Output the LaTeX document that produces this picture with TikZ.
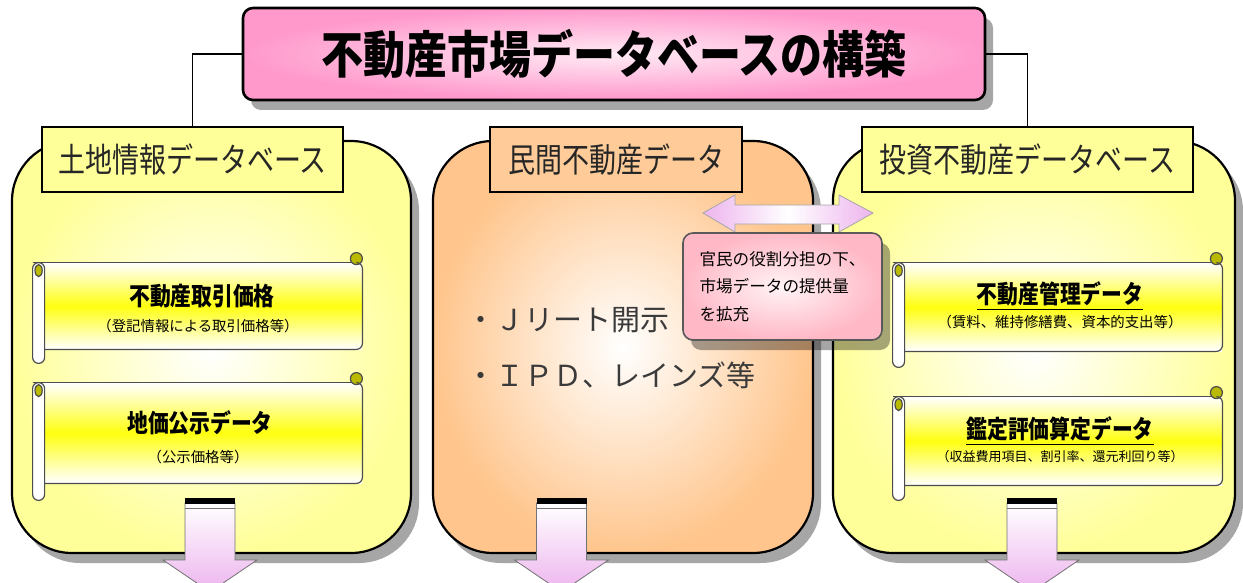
\documentclass[tikz,border=0pt]{standalone}
\usepackage{fontspec}
\usepackage{graphicx}
\newfontfamily\jp{Noto Sans CJK JP}
\usetikzlibrary{shadows}
\definecolor{boxyellow}{HTML}{FFFF9A}
\definecolor{boxpeach}{HTML}{FFC58C}
\definecolor{hdryellow}{HTML}{FFFF99}
\definecolor{hdrpeach}{HTML}{FFCC99}
\definecolor{titlepink}{HTML}{FF99CC}
\definecolor{calloutpink}{HTML}{FFB8C6}
\definecolor{arrowpink}{HTML}{EDB4EE}
\definecolor{scrollyellow}{HTML}{FFFF10}
\definecolor{curlcol}{HTML}{B9B900}
\definecolor{bullettext}{HTML}{3A3A3A}
\newcommand\ScrollDeco[2]{%
  \draw[scrollline, fill=white, rounded corners=3pt] ([xshift=-5pt]#1.north west) rectangle ([xshift=1pt,yshift=-#2]#1.south west);
  \draw[scrollline] ([xshift=-5pt]#1.north west) -- ([xshift=-3pt]#1.north east);
  \draw[scrollline, fill=curlcol] ([xshift=-2pt,yshift=-4pt]#1.north west) ellipse (1.8pt and 3pt);
  \draw[scrollline, fill=curlcol] ([xshift=-3pt,yshift=2pt]#1.north east) circle (3pt);
  \draw[scrollline, rounded corners=3pt] ([xshift=-3pt]#1.north east) -- (#1.north east) -- (#1.south east) -- ([xshift=1pt]#1.south west);
}
\begin{document}
\begin{tikzpicture}[x=0.5pt,y=-0.5pt,
  every node/.style={font=\jp},
  bigbox/.style={draw=black, line width=1.1pt, rounded corners=30pt, minimum height=206pt, inner sep=0pt,
    drop shadow={shadow xshift=4pt, shadow yshift=-5pt, opacity=0.35, fill=black}},
  yellowbox/.style={bigbox, inner color=white, outer color=boxyellow},
  peachbox/.style={bigbox, inner color=white, outer color=boxpeach},
  header/.style={draw=black, line width=0.7pt, minimum height=32.5pt, inner sep=0pt,
    text=black!85, font={\jp\fontsize{13.5}{16}\selectfont}},
  titlebox/.style={draw=black, line width=1.3pt, rounded corners=5pt, minimum width=371pt, minimum height=46pt,
    inner color=white!80!titlepink, outer color=titlepink,
    drop shadow={shadow xshift=4pt, shadow yshift=-5pt, opacity=0.35, fill=black},
    font={\jp\bfseries\fontsize{21}{24}\selectfont}},
  scrollbody/.style={inner sep=0pt, minimum width=159.5pt, top color=white, bottom color=white, middle color=scrollyellow},
  scrollline/.style={draw=black!70, line width=0.6pt},
  stitle/.style={font={\jp\bfseries\fontsize{10.4}{12}\selectfont}, inner sep=0pt},
  ssub/.style={font={\jp\fontsize{7.2}{9}\selectfont}, inner sep=0pt},
  bullet/.style={anchor=west, inner sep=0pt, text=bullettext, font={\jp\fontsize{14.5}{17}\selectfont}},
  callout/.style={draw=black!65, line width=0.8pt, rounded corners=5pt, minimum width=99.5pt, minimum height=53.5pt,
    inner color=white!85!calloutpink, outer color=calloutpink, align=left, inner sep=0pt,
    drop shadow={shadow xshift=4pt, shadow yshift=-5pt, opacity=0.35, fill=black},
    font={\jp\fontsize{8.3}{13.6}\selectfont}},
  conn/.style={draw=black, line width=0.9pt},
  downarr/.pic={
    \shade[top color=white, bottom color=arrowpink, draw=black!55, line width=0.4pt]
      (-25,503) -- (25,503) -- (25,560) -- (47,560) -- (0,592) -- (-47,560) -- (-25,560) -- cycle;
    \fill[black] (-25,498) rectangle (25,503.5);
    \draw[black!55, line width=0.4pt] (-25,508) -- (25,508);
  }
]
\useasboundingbox (0,0) rectangle (1243,583);
\clip (0,0) rectangle (1243,583);
\fill[white] (0,0) rectangle (1243,583);

% big boxes
\node[yellowbox, minimum width=199.5pt] (Lbox) at (211.5,347) {};
\node[peachbox, minimum width=190pt] (Mbox) at (623,347) {};
\node[yellowbox, minimum width=201pt] (Rbox) at (1034,347) {};

% title
\node[titlebox] (title) at (614,54) {\scalebox{1}[1.2]{不動産市場データベースの構築}};

% headers
\node[header, fill=hdryellow, minimum width=150.5pt] (Lhead) at (192.5,159.5) {\scalebox{1}[1.25]{土地情報データベース}};
\node[header, fill=hdrpeach, minimum width=126pt] (Mhead) at (616,159.5) {\scalebox{1}[1.25]{民間不動産データ}};
\node[header, fill=hdryellow, minimum width=165.5pt] (Rhead) at (1027.5,159.5) {\scalebox{1}[1.25]{投資不動産データベース}};

% connectors
\draw[conn] (title.west) -| (Lhead.north);
\draw[conn] (title.east) -| (Rhead.north);

% scrolls left
\node[scrollbody, minimum height=43pt] (L1) at (202.5,306) {};
\ScrollDeco{L1}{7pt}
\node[scrollbody, minimum height=50pt] (L2) at (202.5,433) {};
\ScrollDeco{L2}{8.5pt}
\node[stitle] (L1t) at (202,296) {\scalebox{1}[1.2]{不動産取引価格}};
\node[ssub] (L1s) at (198,326) {（登記情報による取引価格等）};
\node[stitle] (L2t) at (200,423) {\scalebox{1}[1.2]{地価公示データ}};
\node[ssub] (L2s) at (198,457) {（公示価格等）};

% scrolls right
\node[scrollbody, minimum height=44pt] (R1) at (1062.5,307) {};
\ScrollDeco{R1}{8pt}
\node[scrollbody, minimum height=44pt] (R2) at (1062.5,441) {};
\ScrollDeco{R2}{7.5pt}
\node[stitle] (R1t) at (1060,296) {\scalebox{1}[1.2]{\underline{不動産管理データ}}};
\node[ssub] (R1s) at (1060,322) {（賃料、維持修繕費、資本的支出等）};
\node[stitle] (R2t) at (1060,431) {\scalebox{1}[1.2]{\underline{鑑定評価算定データ}}};
\node[ssub, font={\jp\fontsize{6.5}{8}\selectfont}] (R2s) at (1060,457) {（収益費用項目、割引率、還元利回り等）};

% bullets
\node[bullet] (b1) at (466,320) {・Ｊリート開示};
\node[bullet] (b2) at (466,375) {・ＩＰＤ、レインズ等};

% down arrows
\pic at (210,0) {downarr};
\pic at (561.5,0) {downarr};
\pic at (1032,0) {downarr};

% double arrow
\shade[left color=arrowpink, right color=arrowpink, middle color=white, draw=black!35, line width=0.4pt]
  (703,213) -- (735,195) -- (735,205) -- (839,205) -- (839,195) -- (873,213) -- (839,232) -- (839,224) -- (735,224) -- (735,232) -- cycle;

% callout
\node[callout] (note) at (782.5,286.5) {官民の役割分担の下、\\市場データの提供量\\を拡充};
\end{tikzpicture}
\end{document}
